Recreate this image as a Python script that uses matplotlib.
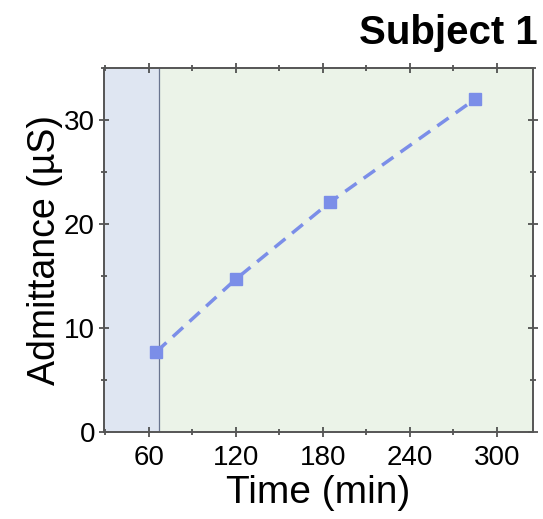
import matplotlib
matplotlib.use('Agg')
import matplotlib.pyplot as plt
from matplotlib.ticker import MultipleLocator

plt.rcParams['font.family'] = ['Liberation Sans', 'DejaVu Sans']

# admittance readings over time
time_min = [65, 120, 185, 285]
admittance_us = [7.7, 14.7, 22.1, 32.0]
phase_edges = [29, 67, 325]
phase_colors = ['#dfe6f2', '#ebf3e8']

fig = plt.figure(figsize=(5.43, 5.19), dpi=100)
ax = fig.add_axes([0.1915, 0.1676, 0.79, 0.7014])

for i, c in enumerate(phase_colors):
    ax.axvspan(phase_edges[i], phase_edges[i + 1], color=c, lw=0, zorder=0)
ax.axvline(phase_edges[1], color='#6a7590', lw=0.9, zorder=1)

ax.plot(time_min, admittance_us, ls=(0, (4, 2.5)), lw=2.5, color='#7b8ee8',
        marker='s', ms=8, zorder=3)

ax.set_xlim(phase_edges[0], phase_edges[-1])
ax.set_ylim(0, 35)
ax.xaxis.set_major_locator(MultipleLocator(60))
ax.xaxis.set_minor_locator(MultipleLocator(30))
ax.yaxis.set_major_locator(MultipleLocator(10))
ax.yaxis.set_minor_locator(MultipleLocator(5))
ax.tick_params(which='both', direction='inout', top=True, right=True,
               color='#444444', width=1.2, labelsize=20, pad=3)
ax.tick_params(axis='x', pad=6)
ax.tick_params(which='major', length=7)
ax.tick_params(which='minor', length=4)
for s in ax.spines.values():
    s.set_color('#555555')
    s.set_linewidth(1.4)

ax.set_xlabel('Time (min)', fontsize=28, labelpad=3)
ax.set_ylabel('Admittance (µS)', fontsize=27, labelpad=1)
fig.text(0.99, 0.937, 'Subject 1', ha='right', va='center', fontsize=29,
         fontweight='bold')

fig.savefig('out.png', dpi=100)
